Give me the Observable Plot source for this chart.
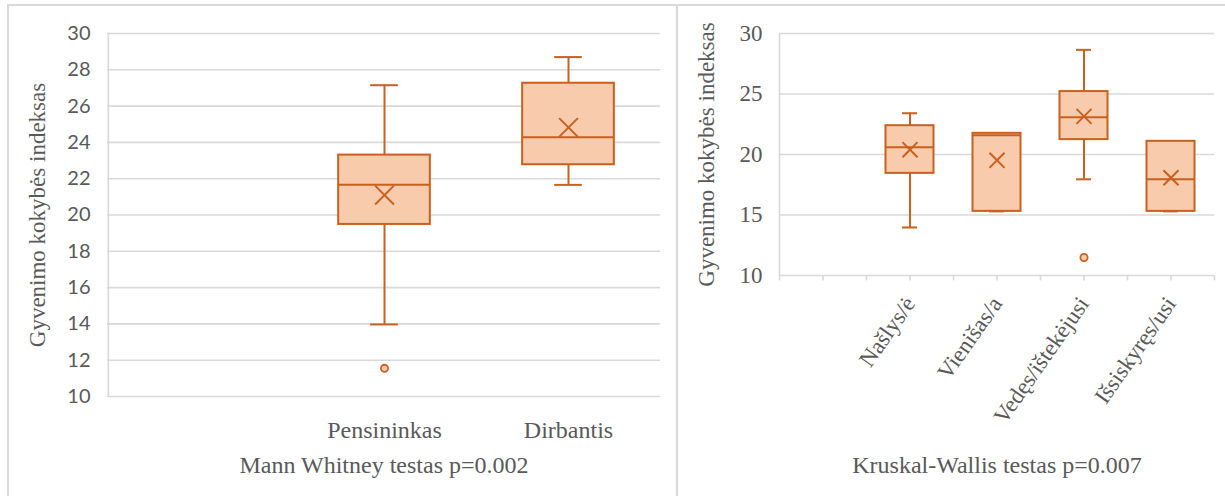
<!DOCTYPE html>
<html>
<head>
<meta charset="utf-8">
<script src="https://cdn.jsdelivr.net/npm/d3@7"></script>
<script src="https://cdn.jsdelivr.net/npm/@observablehq/plot@0.6"></script>
<style>
  html, body { margin: 0; padding: 0; background: #fff; width: 1225px; height: 496px; overflow: hidden; }
  .panel { position: absolute; box-sizing: border-box; }
  #p1 { left: 7px; top: 4px; width: 671px; height: 620px; border: 2px solid #d9d9d9; }
  #p2 { left: 676px; top: 4px; width: 620px; height: 620px; border: 2px solid #d9d9d9; }
  #c1, #c2 { position: absolute; top: 0; }
  #c1 { left: 0; }
  #c2 { left: 680px; }
</style>
</head>
<body>
<div class="panel" id="p1"></div>
<div class="panel" id="p2"></div>
<div id="c1"></div>
<div id="c2"></div>
<script>
// ---------- Data: left chart (Mann Whitney) ----------
const leftCategories = ["", "Pensininkas", "Dirbantis"];
const leftGroups = ["Pensininkas", "Dirbantis"];
const leftMin    = [13.97, 21.66];
const leftQ1     = [19.48, 22.77];
const leftMedian = [21.66, 24.29];
const leftQ3     = [23.30, 27.26];
const leftMax    = [27.15, 28.70];
const leftMean   = [21.10, 24.82];
const leftOutlierGroups = ["Pensininkas"];
const leftOutlierValues = [11.55];
const leftTicks = [10, 12, 14, 16, 18, 20, 22, 24, 26, 28, 30];
const leftCaption = "Mann Whitney testas p=0.002";

// ---------- Data: right chart (Kruskal-Wallis) ----------
const rightCategories = ["", "Našlys/ė", "Vienišas/a", "Vedęs/ištekėjusi", "Išsiskyręs/usi"];
const rightGroups = ["Našlys/ė", "Vienišas/a", "Vedęs/ištekėjusi", "Išsiskyręs/usi"];
const rightMin    = [13.97, 15.30, 17.95, 15.30];
const rightQ1     = [18.44, 15.30, 21.23, 15.30];
const rightMedian = [20.60, 21.60, 23.08, 17.95];
const rightQ3     = [22.38, 21.75, 25.20, 21.09];
const rightMax    = [23.41, 21.75, 28.65, 21.09];
const rightMean   = [20.40, 19.52, 23.15, 18.08];
const rightOutlierGroups = ["Vedęs/ištekėjusi"];
const rightOutlierValues = [11.49];
const rightTicks = [10, 15, 20, 25, 30];
const rightCaption = "Kruskal-Wallis testas p=0.007";

const yTitle = "Gyvenimo kokybės indeksas";

const STROKE = "#C8601E";
const FILL = "#F8CBAD";
const GRID = "#d9d9d9";
const TEXT = "#595959";
const SERIF = "'Liberation Serif', 'Times New Roman', serif";
const SANS = "Lato, 'Open Sans', sans-serif";

function table(groups, mn, q1, med, q3, mx, mean) {
  return groups.map((g, i) => ({g, min: mn[i], q1: q1[i], median: med[i], q3: q3[i], max: mx[i], mean: mean[i]}));
}

function boxChart(cfg) {
  const rows = table(cfg.groups, cfg.min, cfg.q1, cfg.median, cfg.q3, cfg.max, cfg.mean);
  const outliers = cfg.outG.map((g, i) => ({g, v: cfg.outV[i]}));
  const bw = (cfg.width - cfg.mL - cfg.mR) / cfg.categories.length;
  const boxInset = (bw - cfg.boxW) / 2;
  const capInset = (bw - cfg.capW) / 2;
  const y0 = cfg.ticks[0], y1 = cfg.ticks[cfg.ticks.length - 1];
  const marks = [
    Plot.ruleY(cfg.ticks, {y: d => d, stroke: GRID, strokeWidth: 1.6}),
    Plot.ruleX([cfg.categories[0]], {x: d => d, y1: y0, y2: y1, dx: -bw / 2, stroke: GRID, strokeWidth: 1.6}),
    Plot.axisY({ticks: cfg.ticks, tickSize: 0, tickPadding: 17, fontFamily: cfg.tickFont, fontSize: cfg.tickSize, fill: TEXT, label: null}),
    Plot.axisX({tickSize: 0, tickPadding: cfg.xPad, tickRotate: cfg.rotate, fontFamily: SERIF, fontSize: cfg.xSize, fill: TEXT, label: null}),
    // whiskers
    Plot.ruleX(rows, {x: "g", y1: "q3", y2: "max", stroke: STROKE, strokeWidth: 2}),
    Plot.ruleX(rows, {x: "g", y1: "min", y2: "q1", stroke: STROKE, strokeWidth: 2}),
    Plot.tickY(rows, {x: "g", y: "max", insetLeft: capInset, insetRight: capInset, stroke: STROKE, strokeWidth: 2}),
    Plot.tickY(rows, {x: "g", y: "min", insetLeft: capInset, insetRight: capInset, stroke: STROKE, strokeWidth: 2}),
    // boxes
    Plot.rectY(rows, {x: "g", y1: "q1", y2: "q3", insetLeft: boxInset, insetRight: boxInset, fill: FILL, stroke: STROKE, strokeWidth: 2}),
    Plot.tickY(rows, {x: "g", y: "median", insetLeft: boxInset, insetRight: boxInset, stroke: STROKE, strokeWidth: 2}),
    Plot.dot(rows, {x: "g", y: "mean", symbol: "times", r: cfg.xr, stroke: STROKE, strokeWidth: 2}),
    Plot.dot(outliers, {x: "g", y: "v", r: 3.6, fill: FILL, stroke: STROKE, strokeWidth: 1.8}),
    // y title
    Plot.text([yTitle], {text: d => d, frameAnchor: "left", textAnchor: "middle", rotate: -90, dx: cfg.titleDx, fontFamily: SERIF, fontSize: 23, fill: TEXT}),
    // caption
    Plot.text([cfg.caption], {text: d => d, frameAnchor: "bottom", textAnchor: "middle", dy: cfg.capDy, fontFamily: SERIF, fontSize: 24, fill: TEXT})
  ];
  if (cfg.xTicks) {
    marks.push(Plot.ruleX(cfg.categories, {x: d => d, y1: y0, y2: y0 - 0.45, stroke: GRID, strokeWidth: 1.6}));
    marks.push(Plot.ruleX(cfg.categories, {x: d => d, y1: y0, y2: y0 - 0.45, dx: -bw / 2, stroke: GRID, strokeWidth: 1.6}));
    marks.push(Plot.ruleX([cfg.categories[cfg.categories.length - 1]], {x: d => d, y1: y0, y2: y0 - 0.45, dx: bw / 2, stroke: GRID, strokeWidth: 1.6}));
  }
  return Plot.plot({
    width: cfg.width,
    height: 496,
    marginLeft: cfg.mL,
    marginRight: cfg.mR,
    marginTop: 33,
    marginBottom: cfg.mB,
    style: {background: "none", overflow: "visible", color: TEXT},
    x: {type: "band", domain: cfg.categories, padding: 0, axis: null},
    y: {domain: [y0, y1], axis: null},
    marks
  });
}

document.getElementById("c1").append(boxChart({
  categories: leftCategories, groups: leftGroups,
  min: leftMin, q1: leftQ1, median: leftMedian, q3: leftQ3, max: leftMax, mean: leftMean,
  outG: leftOutlierGroups, outV: leftOutlierValues, ticks: leftTicks, caption: leftCaption,
  width: 676, mL: 107, mR: 16, mB: 100, boxW: 92, capW: 28, xr: 8.6,
  tickFont: SANS, tickSize: 20, xPad: 24, xSize: 24, rotate: 0, titleDx: -70, capDy: 76, xTicks: false
}));

document.getElementById("c2").append(boxChart({
  categories: rightCategories, groups: rightGroups,
  min: rightMin, q1: rightQ1, median: rightMedian, q3: rightQ3, max: rightMax, mean: rightMean,
  outG: rightOutlierGroups, outV: rightOutlierValues, ticks: rightTicks, caption: rightCaption,
  width: 545, mL: 99, mR: 11, mB: 221, boxW: 48, capW: 15, xr: 6.9,
  tickFont: SERIF, tickSize: 23, xPad: 24, xSize: 23, rotate: -55, titleDx: -73, capDy: 197, xTicks: true
}));
</script>
</body>
</html>
